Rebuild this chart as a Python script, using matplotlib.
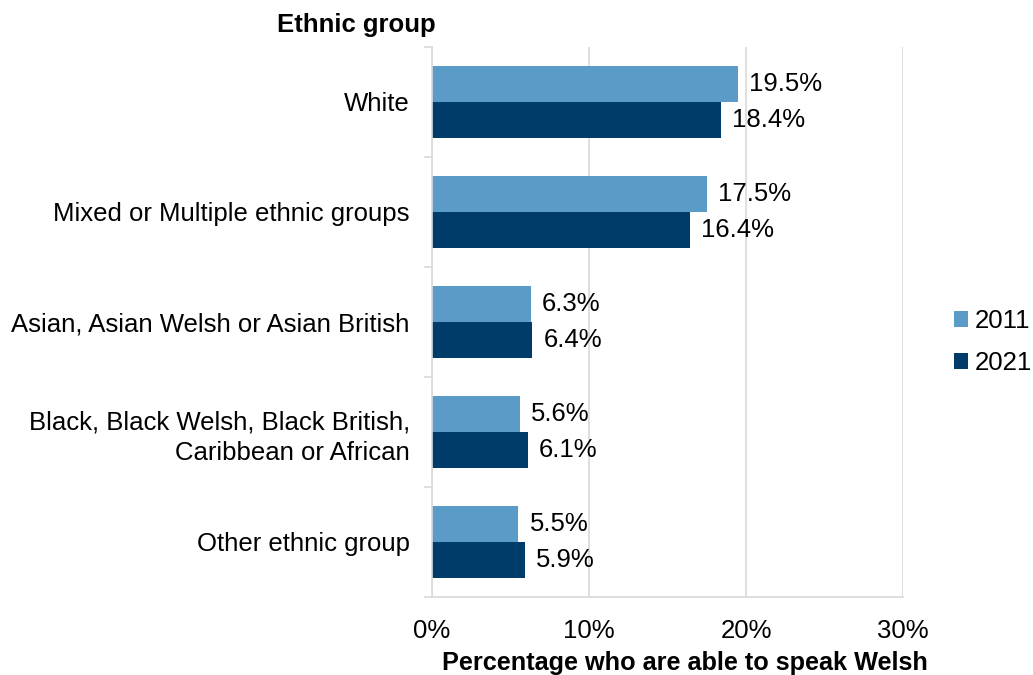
import matplotlib
matplotlib.use("Agg")
import matplotlib.pyplot as plt
import numpy as np

plt.rcParams['font.family'] = ['Liberation Sans', 'DejaVu Sans']

categories = [
    "White",
    "Mixed or Multiple ethnic groups",
    "Asian, Asian Welsh or Asian British",
    "Black, Black Welsh, Black British,\nCaribbean or African",
    "Other ethnic group",
]
values_2011 = [19.5, 17.5, 6.3, 5.6, 5.5]
values_2021 = [18.4, 16.4, 6.4, 6.1, 5.9]
series_labels = ["2011", "2021"]
x_ticks = [0, 10, 20, 30]
x_tick_labels = ["0%", "10%", "20%", "30%"]

col_2011 = "#5B9BC8"
col_2021 = "#003C6A"
grid_col = "#D9D9D9"

fig = plt.figure(figsize=(10.33, 6.75), dpi=100)
ax = fig.add_axes([0.4182, 0.1156, 0.4560, 0.8148])

y = np.arange(len(categories))
h = 0.327
b1 = ax.barh(y - h / 2, values_2011, height=h, color=col_2011, label=series_labels[0])
b2 = ax.barh(y + h / 2, values_2021, height=h, color=col_2021, label=series_labels[1])

fs = 18.5
for bars, vals in ((b1, values_2011), (b2, values_2021)):
    for bar, v in zip(bars, vals):
        ax.annotate(f"{v:.1f}%", (v, bar.get_y() + bar.get_height() / 2),
                    xytext=(8, 0), textcoords="offset points",
                    va="center", ha="left", fontsize=fs, color="black")

ax.set_xlim(0, 30)
ax.set_ylim(len(categories) - 0.5, -0.5)
ax.set_xticks(x_ticks)
ax.set_xticklabels(x_tick_labels, fontsize=fs)
ax.tick_params(axis="x", length=0, pad=16)

ax.set_yticks(y)
ax.set_yticklabels(categories, fontsize=fs, ha="right", linespacing=1.35)
ax.tick_params(axis="y", length=0, pad=16)
# category boundary ticks on the left axis
ax.set_yticks(np.arange(-0.5, len(categories), 1), minor=True)
ax.tick_params(axis="y", which="minor", length=6, color=grid_col, width=1.2)

ax.grid(axis="x", color=grid_col, linewidth=1.2)
ax.set_axisbelow(True)
for s in ("top", "right"):
    ax.spines[s].set_visible(False)
ax.spines["left"].set_color(grid_col)
ax.spines["left"].set_linewidth(1.2)
ax.spines["bottom"].set_color(grid_col)
ax.spines["bottom"].set_linewidth(1.2)

fig.text(0.663, 0.0178, "Percentage who are able to speak Welsh", fontsize=18.2,
         fontweight="bold", ha="center", va="center")
fig.text(0.3446, 0.963, "Ethnic group", fontsize=fs, fontweight="bold",
         ha="center", va="center")

leg = ax.legend(loc="center left", bbox_to_anchor=(1.087, 0.4636), frameon=False,
                fontsize=fs, handlelength=0.55, handleheight=0.55,
                handletextpad=0.25, labelspacing=0.7, borderaxespad=0)

fig.savefig("out.png", dpi=100)
